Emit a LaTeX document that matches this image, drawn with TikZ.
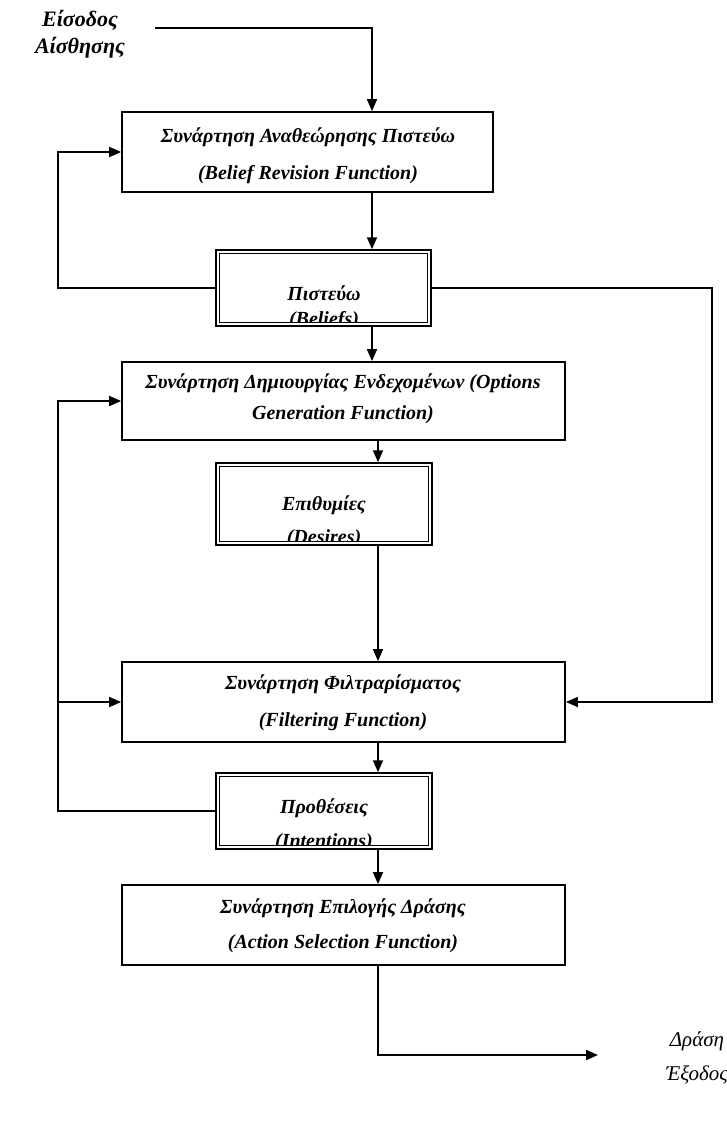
\documentclass[tikz,border=0pt]{standalone}
\usepackage{fontspec}
\setmainfont{Liberation Serif}
\usetikzlibrary{arrows.meta,calc}
\begin{document}
\begin{tikzpicture}[x=1pt,y=-1pt,
  box/.style={draw,line width=1.8pt,inner sep=0pt},
  store/.style={draw,line width=1.5pt,inner sep=0pt},
  lbl/.style={font=\fontsize{20}{23}\selectfont\bfseries\itshape,inner sep=0pt},
  big/.style={inner sep=0pt,align=center},
  arr/.style={line width=1.8pt,-{Triangle[length=12pt,width=10pt]}}]
\useasboundingbox (0,0) rectangle (726,1126);

% guide coordinates for the vertical connectors
\coordinate (xa) at (372,0);
\coordinate (xb) at (378,0);
\coordinate (xl) at (58,0);
\coordinate (xr) at (712,0);
\coordinate (in) at (155,28);
\coordinate (out) at (598,1055);

% function boxes
\node[box,minimum width=371,minimum height=80] (brf) at (307.5,152) {};
\node[lbl] (brf1) at (308,137) {Συνάρτηση Αναθεώρησης Πιστεύω};
\node[lbl] (brf2) at (308,175) {(Belief Revision Function)};

\node[box,minimum width=443,minimum height=78] (ogf) at (343.5,401) {};
\node[lbl] (ogf1) at (343,383) {Συνάρτηση Δημιουργίας Ενδεχομένων (Options};
\node[lbl] (ogf2) at (343,415) {Generation Function)};

\node[box,minimum width=443,minimum height=80] (fil) at (343.5,702) {};
\node[lbl] (fil1) at (343,684) {Συνάρτηση Φιλτραρίσματος};
\node[lbl] (fil2) at (343,722) {(Filtering Function)};

\node[box,minimum width=443,minimum height=80] (act) at (343.5,925) {};
\node[lbl] (act1) at (343,908) {Συνάρτηση Επιλογής Δράσης};
\node[lbl] (act2) at (343,944) {(Action Selection Function)};

% data stores: double frame, text cut off at the inner frame
\node[store,minimum width=215,minimum height=76] (bel) at (323.5,288) {};
\draw[line width=1pt] ($(bel.south west)+(4,-4)$) rectangle ($(bel.north east)+(-4,4)$);
\begin{scope}
  \clip ($(bel.south west)+(4,-4)$) rectangle ($(bel.north east)+(-4,4)$);
  \node[lbl] (bel1) at (324,293) {Πιστεύω};
  \node[lbl] (bel2) at (324,321) {(Beliefs)};
\end{scope}

\node[store,minimum width=216,minimum height=82] (des) at (324,504) {};
\draw[line width=1pt] ($(des.south west)+(4,-4)$) rectangle ($(des.north east)+(-4,4)$);
\begin{scope}
  \clip ($(des.south west)+(4,-4)$) rectangle ($(des.north east)+(-4,4)$);
  \node[lbl] (des1) at (324,505) {Επιθυμίες};
  \node[lbl] (des2) at (324,539) {(Desires)};
\end{scope}

\node[store,minimum width=216,minimum height=76] (int) at (324,811) {};
\draw[line width=1pt] ($(int.south west)+(4,-4)$) rectangle ($(int.north east)+(-4,4)$);
\begin{scope}
  \clip ($(int.south west)+(4,-4)$) rectangle ($(int.north east)+(-4,4)$);
  \node[lbl] (int1) at (324,808) {Προθέσεις};
  \node[lbl] (int2) at (324,843) {(Intentions)};
\end{scope}

% input and output labels
\node[big,font=\fontsize{22}{27}\selectfont\bfseries\itshape] (inl) at (80,34) {Είσοδος\\Αίσθησης};
\node[big,font=\fontsize{21}{34}\selectfont\itshape] (outl) at (697,1058) {Δράση\\Έξοδος};

% main flow
\draw[arr] (in) -| (brf.north -| xa);
\draw[arr] (brf.south -| xa) -- (bel.north -| xa);
\draw[arr] (bel.south -| xa) -- (ogf.north -| xa);
\draw[arr] (ogf.south -| xb) -- (des.north -| xb);
\draw[arr] (des.south -| xb) -- (fil.north -| xb);
\draw[arr] (fil.south -| xb) -- (int.north -| xb);
\draw[arr] (int.south -| xb) -- (act.north -| xb);
\draw[arr] (act.south -| xb) |- (out);

% feedback loops
\draw[arr] (bel.west) -| (xl |- brf.west) -- (brf.west);
\draw[arr] (int.west) -| (xl |- ogf.west) -- (ogf.west);
\draw[arr] (xl |- fil.west) -- (fil.west);
\draw[arr] (bel.east) -| (xr |- fil.east) -- (fil.east);
\end{tikzpicture}
\end{document}
